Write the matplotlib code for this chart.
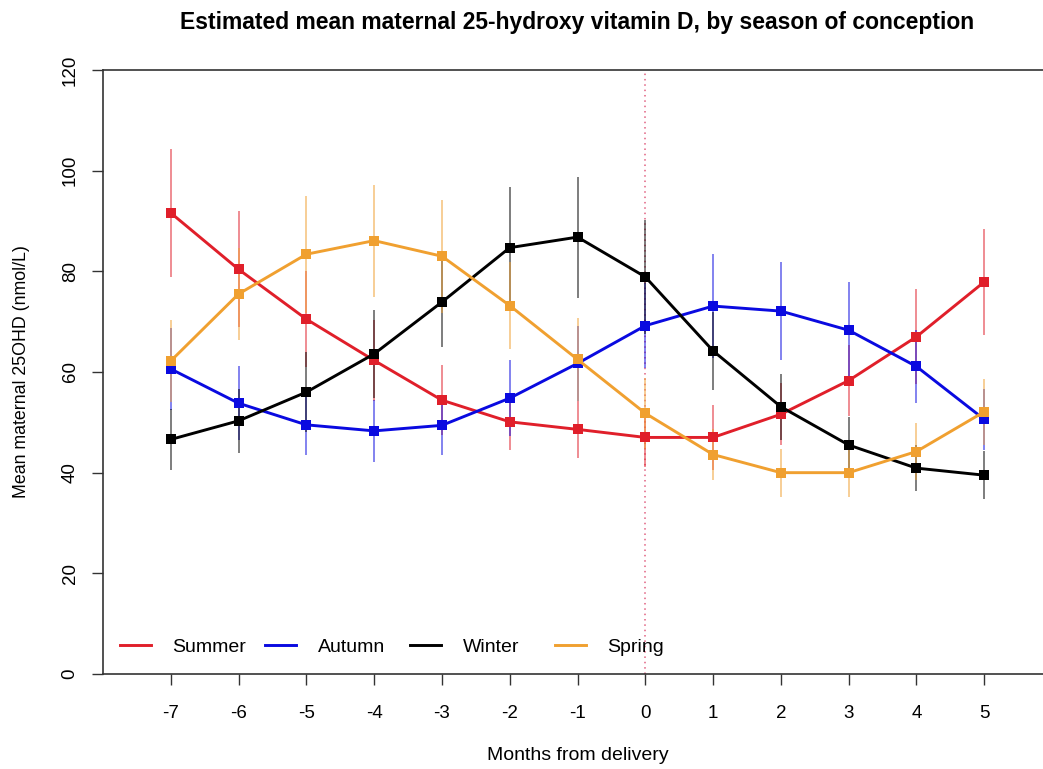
import matplotlib
matplotlib.use("Agg")
import matplotlib.pyplot as plt
from matplotlib.lines import Line2D
from matplotlib.legend import Legend

plt.rcParams['font.family'] = ['Liberation Sans', 'DejaVu Sans']

months = [-7, -6, -5, -4, -3, -2, -1, 0, 1, 2, 3, 4, 5]
tick_labels = [str(m) for m in months]

summer = [91.6, 80.4, 70.5, 62.3, 54.4, 50.1, 48.6, 47.0, 47.0, 51.6, 58.3, 67.0, 77.9]
summer_err = [12.8, 11.5, 9.5, 8.0, 7.0, 5.6, 5.7, 5.8, 6.4, 6.2, 7.0, 9.4, 10.5]
autumn = [60.6, 53.8, 49.5, 48.3, 49.4, 54.8, 61.7, 69.2, 73.1, 72.1, 68.3, 61.1, 50.6]
autumn_err = [8.1, 7.3, 6.0, 6.1, 5.9, 7.6, 7.5, 8.5, 10.3, 9.7, 9.6, 7.3, 6.0]
winter = [46.6, 50.3, 56.0, 63.6, 73.9, 84.7, 86.8, 78.9, 64.2, 53.1, 45.5, 40.9, 39.5]
winter_err = [6.1, 6.3, 8.0, 8.7, 9.0, 12.1, 12.0, 11.3, 7.8, 6.6, 5.6, 4.5, 4.8]
spring = [62.2, 75.5, 83.4, 86.1, 83.0, 73.2, 62.5, 51.8, 43.6, 40.0, 40.0, 44.2, 52.1]
spring_err = [8.1, 9.1, 11.6, 11.1, 11.2, 8.7, 8.2, 7.0, 5.1, 4.8, 4.8, 5.7, 6.6]

season_names = ["Summer", "Autumn", "Winter", "Spring"]
season_colors = ["#E01F2A", "#0A0AE0", "#000000", "#F0A030"]
season_values = [summer, autumn, winter, spring]
season_errors = [summer_err, autumn_err, winter_err, spring_err]

W, H = 1043, 769
fig = plt.figure(figsize=(W / 100, H / 100), dpi=100)
left, right, top, bottom = 103, 1052, 70, 674
ax = fig.add_axes([left / W, 1 - bottom / H, (right - left) / W, (bottom - top) / H])
ax.set_xlim(-8, 6)
ax.set_ylim(0, 120)

ax.axvline(0, color="#E06080", linestyle=(0, (1, 2.5)), linewidth=1.1, zorder=1)

for vals, errs, col in zip(season_values, season_errors, season_colors):
    ax.errorbar(months, vals, yerr=errs, fmt="none", ecolor=col, elinewidth=1.3,
                alpha=0.55, capsize=0, zorder=2)
for vals, col in zip(season_values, season_colors):
    ax.plot(months, vals, color=col, linewidth=2.1, marker="s", markersize=6.5,
            markeredgewidth=0, zorder=3)

ax.set_xticks(months)
ax.set_xticklabels(tick_labels, fontsize=13.5)
ax.set_yticks([0, 20, 40, 60, 80, 100, 120])
ax.set_yticklabels(["0", "20", "40", "60", "80", "100", "120"], fontsize=13.5,
                   rotation=90, va="center")
ax.tick_params(axis="x", length=8, width=1.0, color="#333333", pad=14)
ax.tick_params(axis="y", length=8, width=1.0, color="#333333", pad=9.5)

for s in ["left", "top", "bottom"]:
    ax.spines[s].set_color("#333333")
    ax.spines[s].set_linewidth(1.2)
ax.spines["right"].set_visible(False)

ax.set_xlabel("Months from delivery", fontsize=14)
ax.xaxis.set_label_coords(0.5, -(755 - bottom) / (bottom - top), transform=ax.transAxes)
ax.set_ylabel("Mean maternal 25OHD (nmol/L)", fontsize=12.8)
ax.yaxis.set_label_coords(-(left - 22) / (right - left), 0.5, transform=ax.transAxes)
ax.xaxis.label.set_va("center")
ax.yaxis.label.set_va("center")

fig.text((left + right) / 2 / W, 1 - 23 / H,
         "Estimated mean maternal 25-hydroxy vitamin D, by season of conception",
         ha="center", va="center", fontsize=16.5, fontweight="bold")

# legend: evenly spaced horizontal entries
leg_x0 = 120
leg_step = 145
leg_y = 647
for i, (name, col) in enumerate(zip(season_names, season_colors)):
    h = Line2D([], [], color=col, linewidth=2.1)
    lg = Legend(ax, [h], [name], loc="center left",
                bbox_to_anchor=((leg_x0 + i * leg_step) / W, 1 - leg_y / H),
                bbox_transform=fig.transFigure, frameon=False, fontsize=14,
                handlelength=1.6, handletextpad=1.1, borderpad=0, borderaxespad=0)
    ax.add_artist(lg)

fig.savefig("out.png", dpi=100)
